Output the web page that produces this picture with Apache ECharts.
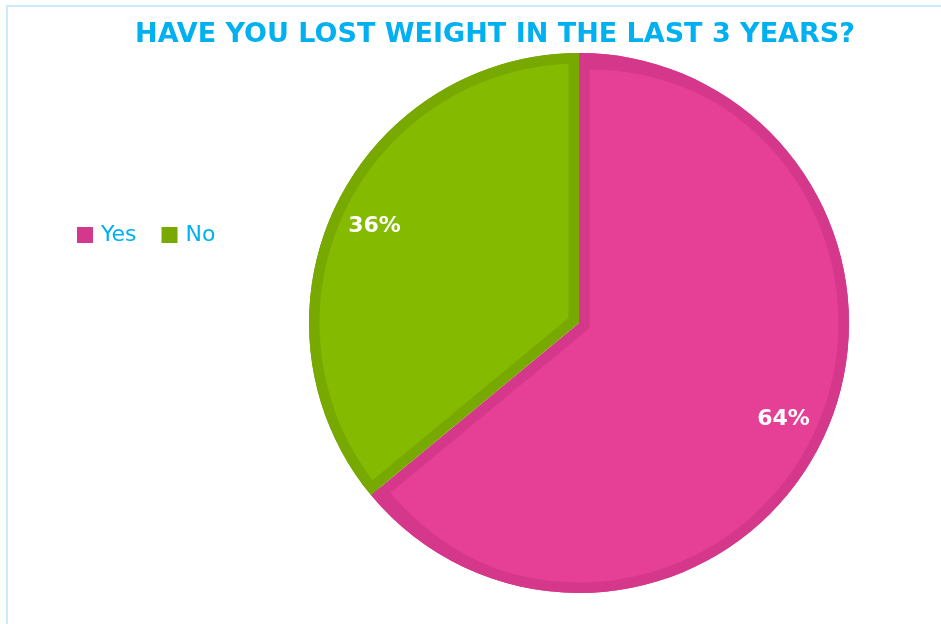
<!DOCTYPE html>
<html>
<head>
<meta charset="utf-8">
<title>Have you lost weight in the last 3 years?</title>
<script src="https://cdn.jsdelivr.net/npm/echarts@6/dist/echarts.min.js"></script>
<style>
  html, body { margin: 0; padding: 0; background: #ffffff; }
  #chart { width: 941px; height: 624px; }
</style>
</head>
<body>
<div id="chart"></div>
<script>
// Survey answers and their shares (percent)
const categories = ['Yes', 'No'];
const shares = [64, 36];

// Fill colours and the darker rim colours of each slice
const fillColors = ['#e63f96', '#84bb00'];
const rimColors = ['#d5388b', '#78a900'];

const center = [579, 323];
const outerR = 270;   // outer edge of the pie
const rim = 10.5;     // width of the darker inner rim
// Half-angle of the smaller slice decides how far the fills are pushed out
const halfAngle = (Math.min(...shares) / 100) * Math.PI;
const push = rim / Math.sin(halfAngle);
const fillR = outerR - push;

function slices(colors, extra) {
  return categories.map((name, i) => Object.assign({
    name: name,
    value: shares[i],
    itemStyle: { color: colors[i] }
  }, extra || {}));
}

const common = {
  type: 'pie',
  center: center,
  startAngle: 90,
  clockwise: true,
  silent: true,
  animation: false,
  label: { show: false },
  labelLine: { show: false },
  emphasis: { disabled: true }
};

const chart = echarts.init(document.getElementById('chart'), null, { renderer: 'canvas' });

chart.setOption({
  backgroundColor: '#ffffff',
  title: {
    text: 'HAVE YOU LOST WEIGHT IN THE LAST 3 YEARS?',
    left: 490,
    textAlign: 'center',
    top: 16,
    textStyle: {
      color: '#00b0f0',
      fontFamily: 'DejaVu Sans',
      fontWeight: 'bold',
      fontSize: 27
    }
  },
  legend: {
    data: categories,
    left: 72,
    top: 219,
    orient: 'horizontal',
    icon: 'rect',
    itemWidth: 16,
    itemHeight: 16,
    itemGap: 25,
    selectedMode: false,
    textStyle: {
      color: '#00b0f0',
      fontFamily: 'DejaVu Sans',
      fontSize: 22,
      padding: [0, 0, 0, 3]
    }
  },
  graphic: [{
    type: 'rect',
    silent: true,
    shape: { x: 7, y: 6, width: 1000, height: 1000 },
    style: { fill: 'none', stroke: '#c8ecfc', lineWidth: 2 }
  }],
  series: [
    // darker base: shows through as the rim along the straight edges
    Object.assign({}, common, {
      name: 'base',
      radius: [0, outerR],
      z: 1,
      data: slices(rimColors)
    }),
    // lighter fills, pushed out so the rim stays visible on both sides
    Object.assign({}, common, {
      name: 'fill',
      radius: [0, fillR],
      z: 2,
      selectedMode: 'multiple',
      selectedOffset: push,
      select: { itemStyle: {} },
      data: slices(fillColors, { selected: true })
    }),
    // darker ring along the outer arc
    Object.assign({}, common, {
      name: 'ring',
      radius: [outerR - rim, outerR],
      z: 3,
      data: slices(rimColors)
    }),
    // percentage labels
    Object.assign({}, common, {
      name: 'labels',
      radius: [176, outerR],
      z: 4,
      data: slices(['rgba(0,0,0,0)', 'rgba(0,0,0,0)']),
      label: {
        show: true,
        position: 'inside',
        formatter: '{c}%',
        color: '#ffffff',
        fontFamily: 'DejaVu Sans',
        fontWeight: 'bold',
        fontSize: 22
      }
    })
  ]
});
</script>
</body>
</html>
